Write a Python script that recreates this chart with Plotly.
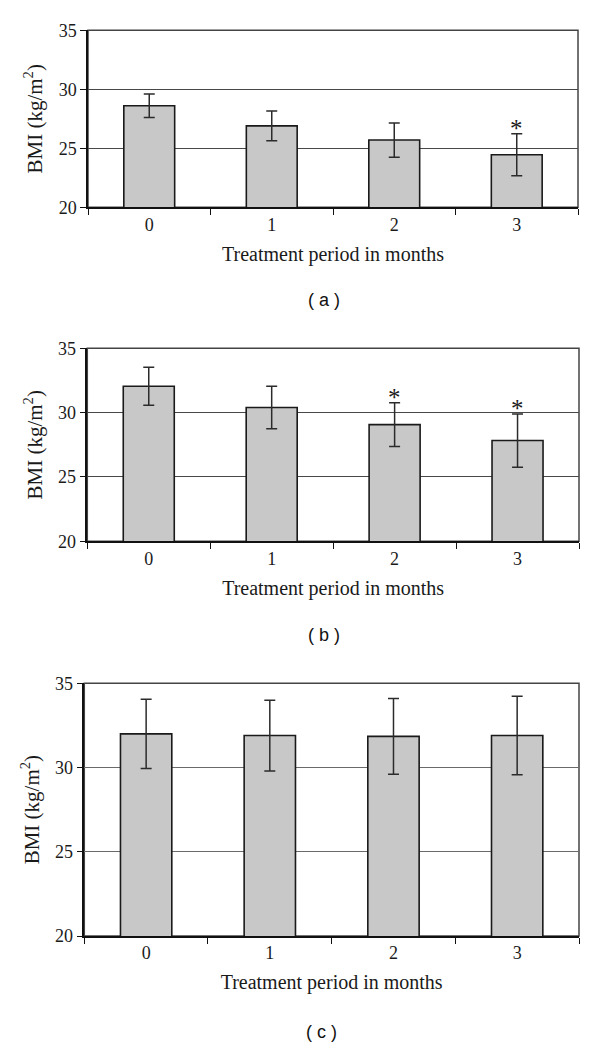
import plotly.graph_objects as go

# ---- data ----
months = ["0", "1", "2", "3"]
bmi_a = [28.6, 26.9, 25.7, 24.45]
err_a = [1.0, 1.27, 1.45, 1.78]
star_a = [False, False, False, True]

bmi_b = [32.05, 30.4, 29.07, 27.83]
err_b = [1.48, 1.65, 1.7, 2.07]
star_b = [False, False, True, True]

bmi_c = [32.0, 31.9, 31.85, 31.9]
err_c = [2.05, 2.1, 2.25, 2.33]
star_c = [False, False, False, False]

y_ticks = [20, 25, 30, 35]
panel_labels = ["( a )", "( b )", "( c )"]
x_title = "Treatment period in months"
y_title = "BMI (kg/m<sup>2</sup>)"

W, H = 600, 1046
# pixel geometry of each panel: (left, right, top, bottom, grid colour)
panels = [
    (88, 578, 30.3, 207.3, "#474747"),
    (87.3, 579, 348.3, 541.3, "#474747"),
    (84.3, 579, 683.3, 936.0, "#6a6a6a"),
]
label_y = [300, 635, 1032]
label_x = [324, 324, 321]

series = [(bmi_a, err_a, star_a), (bmi_b, err_b, star_b), (bmi_c, err_c, star_c)]

serif = "Liberation Serif"
fig = go.Figure()
annotations = []
shapes = []

for i, ((vals, errs, stars), (l, r, t, b, gc)) in enumerate(zip(series, panels)):
    n = "" if i == 0 else str(i + 1)
    xa, ya = "x" + n, "y" + n
    fig.add_trace(go.Bar(
        x=months, y=vals, xaxis=xa, yaxis=ya,
        base=0,
        marker=dict(color="#c8c8c8", line=dict(color="#1a1a1a", width=1.6)),
        error_y=dict(type="data", array=errs, visible=True,
                     color="#2b2b2b", thickness=1.5, width=5.5),
        showlegend=False, hoverinfo="x+y",
    ))
    dom_x = [l / W, r / W]
    dom_y = [1 - b / H, 1 - t / H]
    fig.layout["xaxis" + n] = dict(
        domain=dom_x, anchor=ya, type="category", automargin=False,
        showline=True, linecolor="#111111", linewidth=1.5,
        ticks="outside", tickson="boundaries", ticklen=6, tickwidth=1.3,
        tickcolor="#111111",
        tickfont=dict(family=serif, size=18, color="#1a1a1a"),
        title=dict(text=x_title, font=dict(family=serif, size=20, color="#1a1a1a"),
                   standoff=13),
        showgrid=False, fixedrange=True,
    )
    fig.layout["yaxis" + n] = dict(
        domain=dom_y, anchor=xa, range=[20, 35], automargin=False,
        tickvals=y_ticks, ticktext=[str(v) for v in y_ticks],
        showline=True, linecolor="#111111", linewidth=1.5,
        ticks="outside", ticklen=6, tickwidth=1.3, tickcolor="#111111",
        tickfont=dict(family=serif, size=18, color="#1a1a1a"),
        showgrid=True, gridcolor=gc, gridwidth=1.3,
        zeroline=False,
        title=dict(text=y_title, font=dict(family=serif, size=21, color="#1a1a1a"),
                   standoff=10),
        fixedrange=True,
    )
    # frame (top and right edges)
    shapes.append(dict(type="rect", xref=xa + " domain", yref=ya + " domain",
                       x0=0, x1=1, y0=0, y1=1, layer="below",
                       line=dict(color="#444444", width=1.5)))
    # significance markers
    for m, v, e, s in zip(months, vals, errs, stars):
        if s:
            annotations.append(dict(
                x=m, y=v + e, xref=xa, yref=ya, text="*", showarrow=False,
                yanchor="middle", yshift=5,
                font=dict(family=serif, size=25, color="#1a1a1a")))
    annotations.append(dict(
        x=label_x[i] / W, y=1 - label_y[i] / H, xref="paper", yref="paper",
        text=panel_labels[i], showarrow=False, xanchor="center", yanchor="middle",
        font=dict(family="Liberation Sans", size=18, color="#111111")))

fig.update_layout(
    width=W, height=H,
    margin=dict(l=0, r=0, t=0, b=0, autoexpand=False),
    paper_bgcolor="white", plot_bgcolor="white",
    bargap=0.585,
    annotations=annotations, shapes=shapes,
)

fig.write_html(
    "out.html",
    config={"displayModeBar": False},
    post_script="document.body.style.margin='0';document.body.style.overflow='hidden';",
)
